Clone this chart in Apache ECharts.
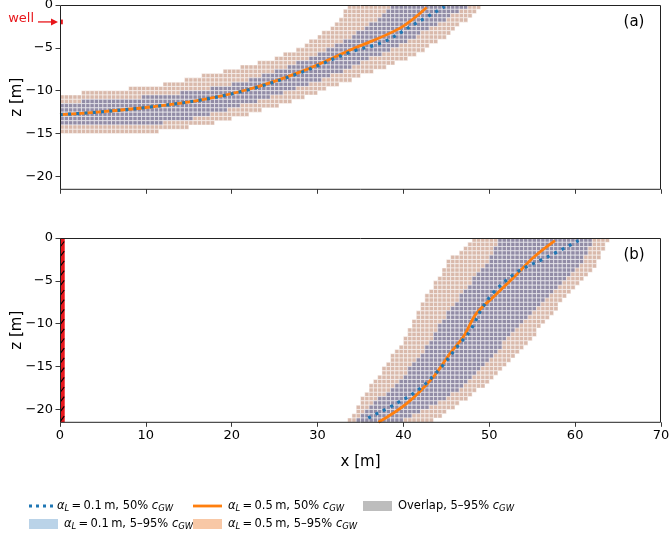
<!DOCTYPE html>
<html><head><meta charset="utf-8">
<script src="https://cdn.jsdelivr.net/npm/echarts@6/dist/echarts.min.js"></script>
<style>html,body{margin:0;padding:0;background:#fff}#c{width:669px;height:536px}</style>
</head><body><div id="c"></div>
<script>
// ---------------- data ----------------
const xTicks = [0, 10, 20, 30, 40, 50, 60, 70];
const zTicks = [-20, -15, -10, -5, 0];
const cellSize = 0.5;        // model grid cell [m]
const zBottom = -21.5;
const wellRadius = 0.55;
const wellScreenA = [-1.7, -2.25];

// panel (a): 50% isolines [x, z]
const aMedian05 = [[0,-12.8],[5,-12.45],[10.5,-11.9],[16.3,-11.1],[22.1,-9.8],[28,-7.8],[33.8,-5.25],[39.6,-2.7],[42.7,-0.3]];
const aMedian01 = [[0,-12.8],[5,-12.45],[10.5,-11.9],[16.3,-11.1],[22.1,-9.85],[28,-7.9],[33.8,-5.5],[37.7,-4.3],[41.5,-2.1],[44.8,-0.2]];
// panel (a): 5-95% band edges (alpha_L=0.5 outer, alpha_L=0.1 inner)
const aOuterUpper = [[0,-10.6],[4.7,-10.0],[10.1,-9.6],[12.8,-9.1],[15.5,-8.5],[17.8,-8.0],[20.1,-7.5],[22.1,-7.0],[24.5,-6.4],[26.0,-5.8],[28.0,-5.0],[29.9,-3.8],[31.8,-2.5],[33.8,0]];
const aOuterLower = [[0,-14.95],[10.1,-14.95],[14,-14.4],[17.5,-13.9],[22.1,-12.7],[26,-11.6],[30,-10.2],[34,-8.7],[38,-7.2],[41.5,-5.8],[44.5,-4.0],[47,-2.0],[49.3,0]];
const aInnerUpper = [[0,-11.4],[4.7,-11.1],[10.1,-10.7],[16.3,-10.0],[22.1,-8.75],[26.0,-7.5],[29.9,-5.8],[33.8,-3.8],[37.0,-1.6],[38.8,0]];
const aInnerLower = [[0,-14.0],[10.1,-14.0],[16.3,-13.1],[22.1,-11.5],[26,-10.3],[30,-8.9],[34,-7.3],[37.6,-5.6],[41,-3.9],[44.5,-1.9],[47.8,0]];

// panel (b): 50% isolines
const bMedian05 = [[37.1,-21.5],[40.4,-19.3],[43.5,-16.2],[45.4,-13.5],[47.0,-11.5],[48.5,-8.8],[50.5,-6.85],[52.8,-4.65],[55.1,-2.3],[57.65,-0.3]];
const bMedian01 = [[35.9,-21.0],[39.2,-19.3],[41.9,-17.6],[44.3,-15.2],[46.4,-12.5],[47.75,-10.85],[49.1,-8.3],[50.5,-6.35],[53.2,-4.0],[56.7,-2.25],[60.4,-0.3]];
// panel (b): band edges (left: bottom->top, right: top->bottom)
const bOuterLeft = [[33.5,-21.6],[35.1,-18.9],[36.7,-16.6],[38.4,-14.2],[40.0,-11.9],[41.3,-9.6],[42.3,-7.3],[43.9,-4.9],[45.0,-2.95],[46.2,-1.8],[48.5,0]];
const bOuterRight = [[63.9,0],[62.9,-2.55],[61.1,-4.9],[58.7,-7.2],[56.7,-9.6],[54.7,-11.9],[52.5,-14.2],[50.2,-16.6],[47.2,-18.9],[43.0,-21.6]];
const bInnerLeft = [[34.2,-21.6],[35.7,-19.9],[37.7,-18.4],[39.6,-16.6],[41.1,-14.7],[42.7,-12.7],[43.9,-10.8],[45.0,-8.8],[46.6,-6.9],[48.1,-4.9],[49.7,-2.95],[51.2,0]];
const bInnerRight = [[62.3,0],[61.1,-2.55],[58.7,-4.9],[56.3,-7.2],[54.0,-9.6],[52.0,-11.9],[50.1,-14.2],[47.8,-16.6],[44.8,-18.9],[39.5,-21.6]];

// ---------------- helpers ----------------
const FONT = 'DejaVu Sans';
const C_OR = '#ff7f0e', C_BL = '#1f77b4';
const C_LIGHT = '#d9b9ab', C_OVER = '#928ca6';
const C_RED = '#e8161b';

function inPoly(pt, poly){
  let inside=false;
  for(let i=0,j=poly.length-1;i<poly.length;j=i++){
    const xi=poly[i][0], yi=poly[i][1], xj=poly[j][0], yj=poly[j][1];
    if(((yi>pt[1])!==(yj>pt[1])) && (pt[0] < (xj-xi)*(pt[1]-yi)/(yj-yi)+xi)) inside=!inside;
  }
  return inside;
}
function rasterize(outer, inner){
  const cells=[];
  const nx=Math.round(70/cellSize), nz=Math.round(-zBottom/cellSize);
  for(let i=0;i<nx;i++){
    for(let j=0;j<nz;j++){
      const cx=(i+0.5)*cellSize, cz=-(j+0.5)*cellSize;
      const inI=inPoly([cx,cz],inner), inO=inPoly([cx,cz],outer);
      if(inI||inO) cells.push([i*cellSize, -j*cellSize, inI?2:1]);
    }
  }
  return cells;
}
const cellsA = rasterize(aOuterUpper.concat(aOuterLower.slice().reverse()), aInnerUpper.concat(aInnerLower.slice().reverse()));
const cellsB = rasterize(bOuterLeft.concat(bOuterRight), bInnerLeft.concat(bInnerRight));

function renderCell(params, api){
  const p=api.coord([api.value(0), api.value(1)]);
  const s=api.size([cellSize, cellSize]);
  return {type:'rect', shape:{x:p[0], y:p[1], width:s[0], height:s[1]},
    style:{fill: api.value(2)===2?C_OVER:C_LIGHT, stroke:'#fff', lineWidth:0.5}};
}
function renderWellA(params, api){
  const p0=api.coord([0, api.value(0)]);
  const p1=api.coord([wellRadius*0.6, api.value(1)]);
  const ym=(p0[1]+p1[1])/2;
  return {type:'group', children:[
    {type:'rect', shape:{x:p0[0], y:p0[1], width:p1[0]-p0[0], height:p1[1]-p0[1]}, style:{fill:C_RED}},
    {type:'line', shape:{x1:p0[0]-22, y1:ym, x2:p0[0]-7, y2:ym}, style:{stroke:C_RED, lineWidth:1.3}},
    {type:'polygon', shape:{points:[[p0[0]-2,ym],[p0[0]-9,ym-3.5],[p0[0]-9,ym+3.5]]}, style:{fill:C_RED}},
    {type:'text', style:{x:p0[0]-26, y:ym-3, text:'well', align:'right', verticalAlign:'middle', fill:C_RED, font:'13px "DejaVu Sans"'}}
  ]};
}
function renderWellB(params, api){
  const p0=api.coord([0, 0]);
  const p1=api.coord([wellRadius, zBottom]);
  const ch=[{type:'rect', shape:{x:p0[0], y:p0[1], width:p1[0]-p0[0], height:p1[1]-p0[1]}, style:{fill:C_RED}}];
  for(let y=p0[1]+6; y<p1[1]-2; y+=9.7){
    ch.push({type:'line', shape:{x1:p0[0]+0.5, y1:y+2.5, x2:p1[0]-0.5, y2:y-2.5}, style:{stroke:'#000', lineWidth:1.1}});
  }
  return {type:'group', children:ch};
}
const fmt = v => String(v).replace('-', '\u2212');

const grids=[{left:60,top:5,width:601,height:184.3,outerBoundsMode:'none',containLabel:false},
             {left:60,top:238,width:601,height:184.3,outerBoundsMode:'none',containLabel:false}];

const xAxes=[0,1].map(k=>({type:'value', gridIndex:k, min:0, max:70, interval:10,
  axisLine:{show:false,onZero:false},
  axisTick:{show:true,length:4.5,lineStyle:{color:'#222',width:0.9}},
  axisLabel:{show:k===1, margin:7, fontFamily:FONT, fontSize:13, color:'#000', formatter:fmt},
  splitLine:{show:false},
  name:k===1?'x [m]':'', nameLocation:'middle', nameGap:32,
  nameTextStyle:{fontFamily:FONT, fontSize:15, color:'#000'}}));
const yAxes=[0,1].map(k=>({type:'value', gridIndex:k, min:zBottom, max:0,
  axisLine:{show:false,onZero:false},
  axisTick:{show:true,length:4.5,customValues:zTicks,lineStyle:{color:'#222',width:0.9}},
  axisLabel:{show:true, margin:7, customValues:zTicks, fontFamily:FONT, fontSize:13, color:'#000', formatter:fmt},
  splitLine:{show:false},
  name:'z [m]', nameLocation:'middle', nameRotate:90, nameGap:35, nameMoveOverlap:false,
  nameTextStyle:{fontFamily:FONT, fontSize:15, color:'#000'}}));

const series=[
  {type:'custom', xAxisIndex:0, yAxisIndex:0, data:cellsA, renderItem:renderCell, encode:{x:0,y:1}, clip:true, z:1, silent:true},
  {type:'custom', xAxisIndex:1, yAxisIndex:1, data:cellsB, renderItem:renderCell, encode:{x:0,y:1}, clip:true, z:1, silent:true},
  {type:'line', xAxisIndex:0, yAxisIndex:0, data:aMedian05, showSymbol:false, smooth:0.35, lineStyle:{color:C_OR,width:2.8}, z:5},
  {type:'line', xAxisIndex:0, yAxisIndex:0, data:aMedian01, showSymbol:false, smooth:0.35, lineStyle:{color:C_BL,width:3.2,type:[3,5.2]}, z:6},
  {type:'line', xAxisIndex:1, yAxisIndex:1, data:bMedian05, showSymbol:false, smooth:0.35, lineStyle:{color:C_OR,width:2.8}, z:5},
  {type:'line', xAxisIndex:1, yAxisIndex:1, data:bMedian01, showSymbol:false, smooth:0.35, lineStyle:{color:C_BL,width:3.2,type:[3,5.2]}, z:6},
  {type:'custom', xAxisIndex:0, yAxisIndex:0, data:[wellScreenA], renderItem:renderWellA, clip:false, z:7, silent:true},
  {type:'custom', xAxisIndex:1, yAxisIndex:1, data:[[0,zBottom]], renderItem:renderWellB, encode:{x:0,y:1}, clip:false, z:7, silent:true}
];

// legend (drawn as graphics, real text)
const rich={
  n:{fontFamily:FONT,fontSize:11.5,color:'#000',lineHeight:14},
  i:{fontFamily:FONT,fontStyle:'italic',fontSize:11.5,color:'#000',lineHeight:14},
  s:{fontFamily:FONT,fontStyle:'italic',fontSize:8.5,color:'#000',lineHeight:8,verticalAlign:'bottom'}
};
const legendItems=[
  {kind:'dot', color:C_BL, x:29, y:506, text:'{i|α}{s|L}{n|\u2009=\u20090.1\u2009m, 50% }{i|c}{s|GW}'},
  {kind:'line', color:C_OR, x:193, y:506, text:'{i|α}{s|L}{n|\u2009=\u20090.5\u2009m, 50% }{i|c}{s|GW}'},
  {kind:'patch', color:'#bdbdbd', x:363, y:506, text:'{n|Overlap, 5–95% }{i|c}{s|GW}'},
  {kind:'patch', color:'#bad3e8', x:29, y:524, text:'{i|α}{s|L}{n|\u2009=\u20090.1\u2009m, 5–95% }{i|c}{s|GW}'},
  {kind:'patch', color:'#f8c8a6', x:193, y:524, text:'{i|α}{s|L}{n|\u2009=\u20090.5\u2009m, 5–95% }{i|c}{s|GW}'}
];
const graphic=[];
grids.forEach(g=>graphic.push({type:'rect', z:100, silent:true, shape:{x:g.left+0.5,y:g.top+0.5,width:g.width-1,height:g.height-0.5}, style:{fill:'rgba(0,0,0,0)', stroke:'#222', lineWidth:1}}));
graphic.push({type:'text', z:100, style:{x:634, y:22, text:'(a)', align:'center', verticalAlign:'middle', font:'15px "DejaVu Sans"', fill:'#000'}});
graphic.push({type:'text', z:100, style:{x:634, y:255, text:'(b)', align:'center', verticalAlign:'middle', font:'15px "DejaVu Sans"', fill:'#000'}});
legendItems.forEach(it=>{
  const w=24;
  if(it.kind==='dot') graphic.push({type:'line', shape:{x1:it.x,y1:it.y,x2:it.x+w,y2:it.y}, style:{stroke:it.color,lineWidth:3,lineDash:[3,4]}});
  else if(it.kind==='line') graphic.push({type:'line', shape:{x1:it.x,y1:it.y,x2:it.x+w+5,y2:it.y}, style:{stroke:it.color,lineWidth:2.8}});
  else graphic.push({type:'rect', shape:{x:it.x,y:it.y-5,width:w+5,height:10}, style:{fill:it.color}});
  graphic.push({type:'text', style:{x:it.x+(it.kind==='dot'?28:35), y:it.y, text:it.text, rich:rich, verticalAlign:'middle', align:'left'}});
});

const chart=echarts.init(document.getElementById('c'),null,{renderer:'canvas'});
chart.setOption({animation:false, backgroundColor:'#fff', grid:grids, xAxis:xAxes, yAxis:yAxes, series:series, graphic:graphic});
</script></body></html>
